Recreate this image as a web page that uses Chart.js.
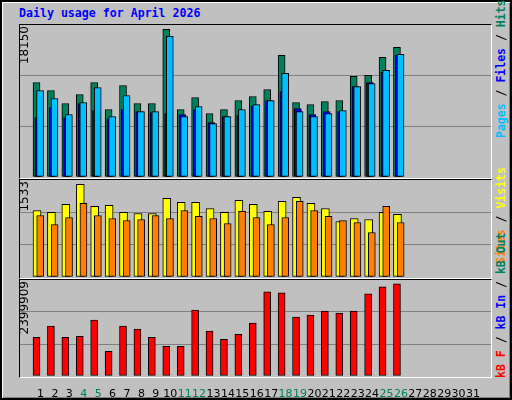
<!DOCTYPE html>
<html><head><meta charset="utf-8">
<script src="https://cdn.jsdelivr.net/npm/chart.js@4"></script>
<style>
body{margin:0;width:512px;height:400px;overflow:hidden;background:#c0c0c0;position:relative;font-family:"DejaVu Sans Mono",monospace}
#frame{position:absolute;left:0;top:0;width:508px;height:396px;border:2px solid #000;box-shadow:inset 1px 1px 0 #fff,inset -1px -1px 0 #808080}
.panel{position:absolute;left:19px;width:471px;border-top:1px solid #000;border-left:1px solid #000;border-right:1px solid #fff;border-bottom:1px solid #fff}
canvas{position:absolute}
.yl{position:absolute;font-family:"DejaVu Sans",sans-serif;font-size:12px;transform-origin:right top;transform:rotate(-90deg);white-space:nowrap;color:#000}
.leg{position:absolute;font-size:11.5px;font-weight:bold;transform-origin:left top;transform:rotate(-90deg);white-space:nowrap}
</style></head><body>
<div id="frame"></div>
<div style="position:absolute;left:19px;top:6px;color:#0000ff;font-weight:bold;font-size:11.6px">Daily usage for April 2026</div>
<div class="panel" style="top:24px;height:153px"></div>
<div class="panel" style="top:179px;height:98px"></div>
<div class="panel" style="top:279px;height:97px"></div>
<canvas id="c1" style="left:20px;top:25px;width:471px;height:152px"></canvas>
<canvas id="c2" style="left:20px;top:180px;width:471px;height:97px"></canvas>
<canvas id="c3" style="left:20px;top:280px;width:471px;height:120px"></canvas>
<div class="yl" style="right:495px;top:26px">18150</div>
<div class="yl" style="right:495px;top:181px">1533</div>
<div class="yl" style="right:495px;top:281px">2399909</div>
<div class="leg" style="left:494px;top:138px"><span style="color:#00bfff">Pages</span><span style="color:#000"> / </span><span style="color:#0000ff">Files</span><span style="color:#000"> / </span><span style="color:#00805c">Hits</span></div>
<div class="leg" style="left:494px;top:264px"><span style="color:#ff8000">Sites</span><span style="color:#000"> / </span><span style="color:#ffff00">Visits</span></div>
<div class="leg" style="left:494px;top:378px"><span style="color:#ff0000">kB F</span><span style="color:#000"> / </span><span style="color:#0000ff">kB In</span><span style="color:#000"> / </span><span style="color:#00805c">kB Out</span></div>
<script>
const days=[1,2,3,4,5,6,7,8,9,10,11,12,13,14,15,16,17,18,19,20,21,22,23,24,25,26];
const dayLabels=["1","2","3","4","5","6","7","8","9","10","11","12","13","14","15","16","17","18","19","20","21","22","23","24","25","26","27","28","29","30","31"];
const weekendDays=[4,5,11,12,18,19,25,26];
const hits=[11621,10635,9034,10143,11621,8295,11251,9034,9034,18150,8295,9773,7802,8295,9403,9896,10758,14947,9157,8911,9280,9403,12360,12483,14700,15932];
const files=[7309,8541,7309,9034,8172,7186,8295,8048,7925,7802,7679,8295,6693,7432,7556,8788,9403,10512,8418,7679,8048,8048,11128,11621,12853,14947];
const pages=[10635,9650,7679,9157,11005,7432,10019,8048,8048,17288,7432,8664,6570,7432,8295,8911,9403,12730,8048,7432,7802,8172,11128,11498,13099,15070];
const visits=[1101,1068,1201,1533,1168,1184,1068,1051,1051,1301,1234,1234,1134,1068,1267,1201,1085,1251,1317,1218,1134,919,968,952,1068,1035];
const sites=[1018,869,985,1217,1018,968,935,952,1018,968,1101,1002,968,885,1085,985,869,985,1251,1101,1002,935,902,736,1168,902];
const kbytes=[1007262,1296302,1007262,1033538,1453961,639392,1296302,1217473,1007262,770774,770774,1716725,1164920,954709,1086091,1375132,2189700,2163424,1532790,1585343,1690448,1637896,1690448,2137147,2321082,2399909];
const XMIN=0.107,XMAX=31.72;
function pts(arr,off){return arr.map((v,i)=>({x:days[i]+off,y:v}));}
function ds(arr,off,color,w,order){return {data:pts(arr,off),backgroundColor:color,borderColor:'#000',borderWidth:1,barThickness:w,grouped:false,order:order,borderSkipped:false};}
function mk(id,max,sets,showX){
  new Chart(document.getElementById(id),{type:'bar',data:{datasets:sets},
    options:{animation:false,responsive:false,maintainAspectRatio:false,devicePixelRatio:1,
      layout:{padding:0},plugins:{legend:{display:false},tooltip:{enabled:false}},
      scales:{
        x:{type:'linear',min:XMIN,max:XMAX,display:showX,grid:{display:false},border:{display:false},
           afterBuildTicks:s=>{s.ticks=dayLabels.map((l,i)=>({value:i+1}));},
           afterFit:s=>{s.height=showX?24:0;},
           ticks:{autoSkip:false,maxRotation:0,padding:4,font:{family:'DejaVu Sans',size:11},
             callback:(v)=>dayLabels[v-1],
             color:c=>weekendDays.includes(c.tick.value)?'#00805c':'#000'}},
        y:{min:0,max:max,display:true,afterFit:s=>{s.width=0;},border:{display:false},
           afterBuildTicks:s=>{s.ticks=[0,max/3,2*max/3,max].map(v=>({value:v}));},
           ticks:{display:false},
           grid:{drawTicks:false,color:c=>(c.index===1||c.index===2)?'#808080':'rgba(0,0,0,0)'}}
      }}});
}
const c1=document.getElementById('c1');c1.width=471;c1.height=152;
const c2=document.getElementById('c2');c2.width=471;c2.height=97;
const c3=document.getElementById('c3');c3.width=471;c3.height=120;
mk('c1',18684,[ds(hits,-0.275,'#00805c',7,3),ds(files,-0.15,'#0000ff',7,2),ds(pages,-0.03,'#00bfff',7,1)],false);
mk('c2',1605,[ds(visits,-0.24,'#ffff00',8,2),ds(sites,-0.02,'#ff8000',7,1)],false);
mk('c3',2496250,[ds(kbytes,-0.275,'#ff0000',7,1)],true);
</script>
</body></html>
